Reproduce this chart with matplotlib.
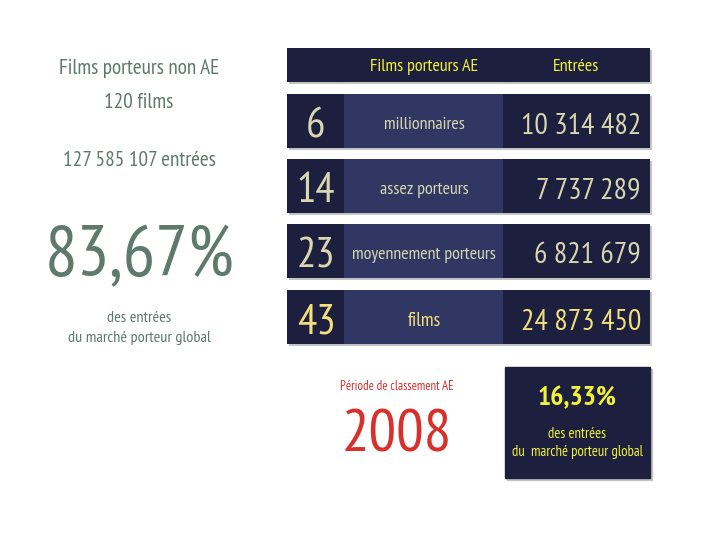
import matplotlib
matplotlib.use("Agg")
import matplotlib.pyplot as plt
from matplotlib.patches import Rectangle

plt.rcParams['font.family'] = ['PT Sans Narrow', 'DejaVu Sans']

# data
counts = [6, 14, 23, 43]
categories = ["millionnaires", "assez porteurs", "moyennement porteurs", "films"]
entries = ["10 314 482", "7 737 289", "6 821 679", "24 873 450"]
header = ["Films porteurs AE", "Entrées"]
non_ae_title = "Films porteurs non AE"
non_ae_films = "120 films"
non_ae_entries = "127 585 107 entrées"
non_ae_share = "83,67%"
ae_share = "16,33%"
period = "2008"

navy = "#1d1f3f"
mid = "#303763"
beige = "#d9d7b0"
yellow = "#f2f23a"
gold = "#f3e07a"
green = "#5d7a6c"
red = "#d8312c"
shadow = "#c4c4c4"

fig = plt.figure(figsize=(7.2, 5.4), dpi=100)
ax = fig.add_axes([0, 0, 1, 1])
ax.set_xlim(0, 720)
ax.set_ylim(540, 0)
ax.axis("off")

# header bar
ax.barh([67], [363], left=289, height=34, color=shadow)
ax.barh([65], [363], left=287, height=34, color=navy)
ax.text(424, 67, header[0], color=yellow, fontsize=13, ha="center", va="center")
ax.text(576, 67, header[1], color=yellow, fontsize=13, ha="center", va="center")

# rows
row_y = [121, 186, 251, 317]
ax.barh([y + 2 for y in row_y], [363] * 4, left=289, height=54, color=shadow)
ax.barh(row_y, [57] * 4, left=287, height=54, color=navy)
ax.barh(row_y, [159] * 4, left=344, height=54, color=mid)
ax.barh(row_y, [147] * 4, left=503, height=54, color=navy)
for i, y in enumerate(row_y):
    c = gold if i == 3 else beige
    ax.text(316, y + 6, str(counts[i]), color=c, fontsize=31, ha="center", va="center")
    fs = 14 if i == 3 else 13
    ax.text(424, y + 4, categories[i], color=c, fontsize=fs, ha="center", va="center")
    ax.text(641, y + 5, entries[i], color=c, fontsize=21.5, ha="right", va="center")

# left block
ax.text(139, 69, non_ae_title, color=green, fontsize=15.3, ha="center", va="center")
ax.text(139, 103, non_ae_films, color=green, fontsize=15.3, ha="center", va="center")
ax.text(139, 161, non_ae_entries, color=green, fontsize=15.3, ha="center", va="center")
ax.text(140, 258, non_ae_share, color=green, fontsize=52, ha="center", va="center")
ax.text(139, 318, "des entrées", color=green, fontsize=11.7, ha="center", va="center")
ax.text(139, 338, "du marché porteur global", color=green, fontsize=11.7, ha="center", va="center")

# period
ax.text(397, 387, "Période de classement AE", color=red, fontsize=9.3, ha="center", va="center")
ax.text(397, 437, period, color=red, fontsize=44, ha="center", va="center")

# AE share box
ax.add_patch(Rectangle((507, 369), 145, 111, color=shadow))
ax.add_patch(Rectangle((505, 367), 145, 111, color=navy))
ax.text(577, 398, ae_share, color=yellow, fontsize=20, fontweight="bold", ha="center", va="center")
ax.text(577, 434, "des entrées", color=yellow, fontsize=10.5, ha="center", va="center")
ax.text(577, 452, "du  marché porteur global", color=yellow, fontsize=10.5, ha="center", va="center")

fig.savefig("out.png", dpi=100, facecolor="white")
